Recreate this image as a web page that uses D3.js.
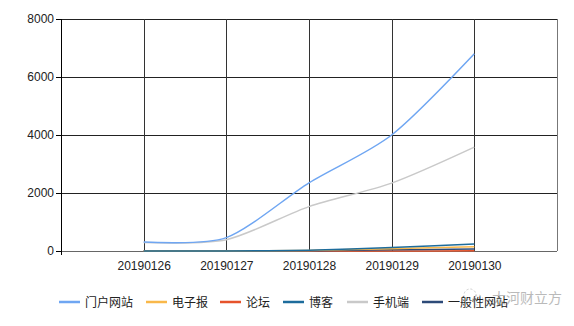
<!DOCTYPE html>
<html>
<head>
<meta charset="utf-8">
<script src="https://cdn.jsdelivr.net/npm/d3@7"></script>
<style>
  body { margin: 0; background: #fff; }
  text { font-family: "Liberation Sans", Arial, "Noto Sans CJK SC", sans-serif; }
</style>
</head>
<body>
<svg id="chart" width="574" height="326"></svg>
<script>
const dates = ['20190126', '20190127', '20190128', '20190129', '20190130'];
const seriesNames = ['门户网站', '电子报', '论坛', '博客', '手机端', '一般性网站'];
const seriesColors = ['#6fa6f2', '#f9b84a', '#e6532b', '#1d6c9c', '#c9c9c9', '#2d4a78'];
const portal = [310, 460, 2350, 4000, 6800];
const epaper = [0, 0, 20, 80, 150];
const forum = [0, 0, 0, 0, 5];
const blog = [0, 0, 30, 120, 240];
const mobile = [290, 390, 1530, 2340, 3580];
const general = [0, 0, 10, 40, 70];
const yTicks = [0, 2000, 4000, 6000, 8000];

const seriesValues = [portal, epaper, forum, blog, mobile, general];

const svg = d3.select('#chart');
const plotL = 61, plotR = 557, plotT = 19, plotB = 251;

const x = d3.scaleLinear().domain([0, dates.length + 1]).range([plotL, plotR]);
const y = d3.scaleLinear().domain([0, 8000]).range([plotB, plotT]);

// y ticks
svg.append('g')
    .attr('transform', `translate(${plotL},0)`)
    .call(d3.axisLeft(y).tickValues(yTicks).tickFormat(d3.format('d')).tickSize(5).tickPadding(2))
    .call((g) => g.select('.domain').remove())
    .call((g) => g.selectAll('line').attr('stroke', '#000'))
    .call((g) => g.selectAll('text').attr('fill', '#222').style('font-size', '12px'));

// horizontal grid
svg.append('g').selectAll('line')
    .data(yTicks)
    .enter().append('line')
    .attr('x1', plotL).attr('x2', plotR)
    .attr('y1', (d) => Math.round(y(d)) + 0.5).attr('y2', (d) => Math.round(y(d)) + 0.5)
    .attr('stroke', (d) => d === 0 ? '#666' : '#222');

// vertical grid at categories and right edge
const vx = d3.range(1, dates.length + 2);
svg.append('g').selectAll('line')
    .data(vx)
    .enter().append('line')
    .attr('x1', (d) => Math.round(x(d)) + 0.5).attr('x2', (d) => Math.round(x(d)) + 0.5)
    .attr('y1', plotT).attr('y2', plotB)
    .attr('stroke', (d) => d === dates.length + 1 ? '#777' : '#333');

// left axis line
svg.append('line')
    .attr('x1', plotL + 0.5).attr('x2', plotL + 0.5)
    .attr('y1', plotT).attr('y2', plotB + 4)
    .attr('stroke', '#000');

// x labels
svg.append('g')
    .attr('transform', `translate(0,${plotB})`)
    .call(d3.axisBottom(x).tickValues(d3.range(1, dates.length + 1))
        .tickFormat((d) => dates[d - 1]).tickSize(0).tickPadding(10))
    .call((g) => g.select('.domain').remove())
    .call((g) => g.selectAll('text').attr('fill', '#222').style('font-size', '12px'));

// series
const line = d3.line()
    .x((d, i) => x(i + 1))
    .y((d) => y(d))
    .curve(d3.curveCardinal.tension(0.2));

const order = [2, 5, 1, 3, 4, 0];
svg.append('g').selectAll('path')
    .data(order)
    .enter().append('path')
    .attr('d', (k) => line(seriesValues[k]))
    .attr('fill', 'none')
    .attr('stroke', (k) => seriesColors[k])
    .attr('stroke-width', 1.5);

// legend
const legendX = [59, 146, 220, 283, 347, 422];
const lg = svg.append('g').selectAll('g')
    .data(seriesNames)
    .enter().append('g')
    .attr('transform', (d, i) => `translate(${legendX[i]},302)`);
lg.append('line')
    .attr('x1', 0).attr('x2', 21)
    .attr('stroke', (d, i) => seriesColors[i])
    .attr('stroke-width', 2.5);
lg.append('text')
    .attr('x', 26).attr('y', 4.5)
    .attr('fill', '#222')
    .style('font-size', '12px')
    .style('font-family', '"Noto Sans CJK SC", sans-serif')
    .text((d) => d);

// watermark
const wm = svg.append('g').attr('opacity', 0.5);
wm.append('circle').attr('cx', 470).attr('cy', 295).attr('r', 6)
    .attr('fill', 'none').attr('stroke', '#999').attr('stroke-dasharray', '2,2');
wm.append('circle').attr('cx', 478).attr('cy', 300).attr('r', 5)
    .attr('fill', 'none').attr('stroke', '#999').attr('stroke-dasharray', '2,2');
wm.append('text')
    .attr('x', 492).attr('y', 303)
    .attr('fill', '#777')
    .style('font-size', '14px')
    .style('font-family', '"Noto Sans CJK SC", sans-serif')
    .text('大河财立方');
</script>
</body>
</html>
